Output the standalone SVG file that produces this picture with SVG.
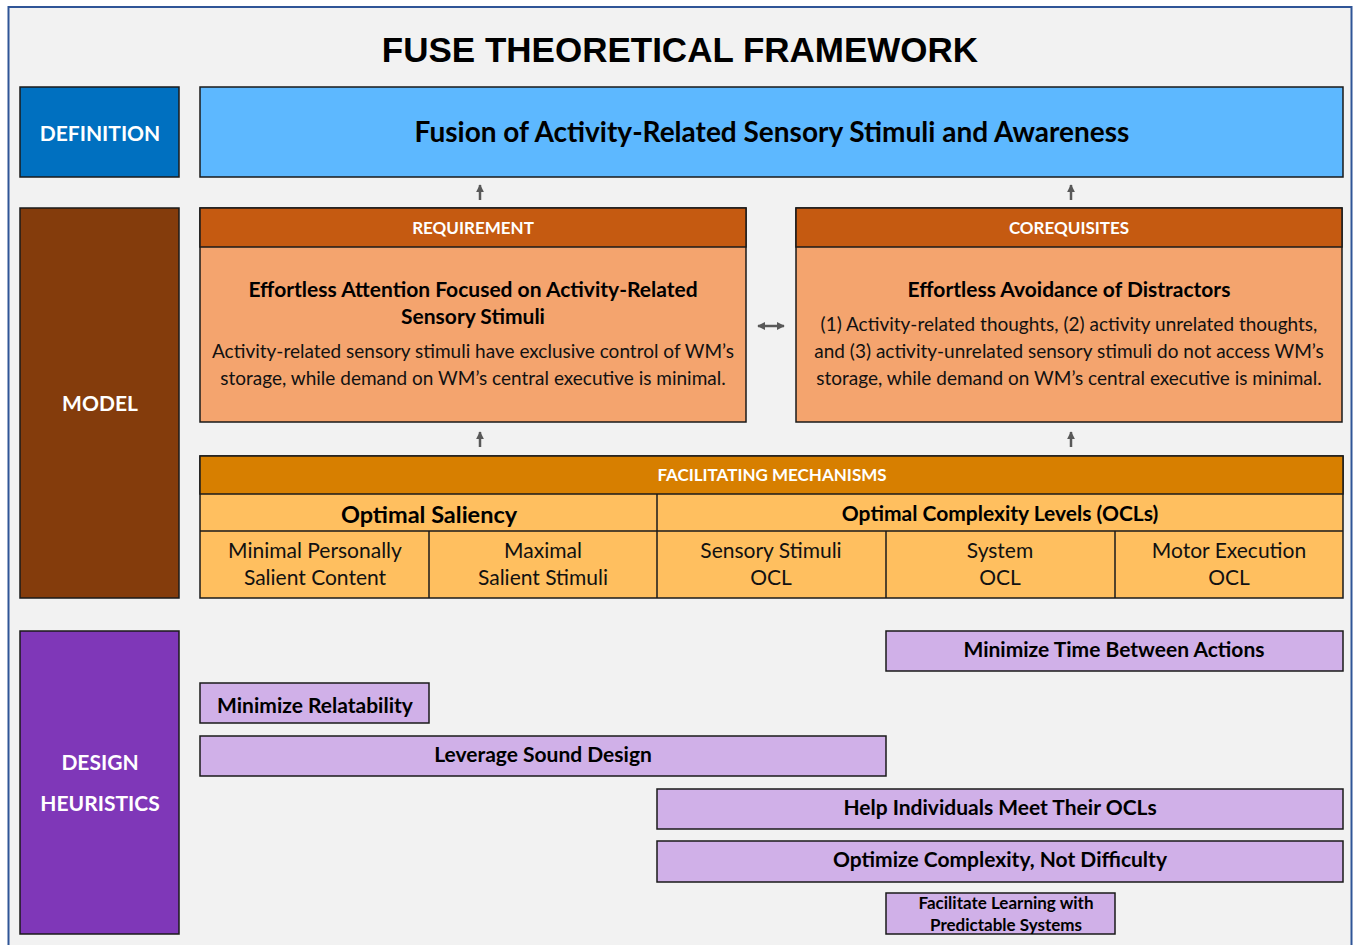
<svg xmlns="http://www.w3.org/2000/svg" width="1353" height="945" viewBox="0 0 1353 945">
<defs>
<style>
.t{font-family:Lato,"Open Sans","Liberation Sans",sans-serif;text-anchor:middle;}
.w{fill:#fff;font-weight:bold;}
.b{font-weight:bold;fill:#000;}
.n{fill:#111;}
.box{stroke:#1a1a1a;stroke-width:1.5;}
.ar{stroke:#595959;stroke-width:2.5;fill:none;}
</style>
<marker id="ah" viewBox="0 0 10 10" refX="9" refY="5" markerWidth="3.2" markerHeight="3.2" orient="auto-start-reverse">
<path d="M0,0 L10,5 L0,10 z" fill="#595959"/>
</marker>
</defs>
<rect x="0" y="0" width="1353" height="945" fill="#ffffff"/>
<rect x="8.5" y="7" width="1343" height="945" fill="#f2f2f2" stroke="#2f5597" stroke-width="2"/>
<text x="680" y="62" font-family="'Liberation Sans',Arial,sans-serif" font-weight="bold" font-size="35" text-anchor="middle" fill="#000">FUSE THEORETICAL FRAMEWORK</text>

<g id="definition-label">
<rect x="20" y="87" width="159" height="90" fill="#0070c0" class="box"/>
<text x="100" y="141" class="t w" font-size="21">DEFINITION</text>
</g>
<g id="definition">
<rect x="200" y="87" width="1143" height="90" fill="#5db8ff" class="box"/>
<text x="772" y="142" class="t b" font-size="28">Fusion of Activity-Related Sensory Stimuli and Awareness</text>
</g>

<g id="model-label">
<rect x="20" y="208" width="159" height="390" fill="#843c0c" class="box"/>
<text x="100" y="411" class="t w" font-size="21">MODEL</text>
</g>

<g id="requirement">
<rect x="200" y="208" width="546" height="214" fill="#f4a46e" class="box"/>
<rect x="200" y="208" width="546" height="39" fill="#c55a11" class="box"/>
<text x="473" y="234" class="t w" font-size="17">REQUIREMENT</text>
<text x="473" y="297" class="t b" font-size="21">Effortless Attention Focused on Activity-Related</text>
<text x="473" y="324" class="t b" font-size="21">Sensory Stimuli</text>
<text x="473" y="358" class="t n" font-size="19">Activity-related sensory stimuli have exclusive control of WM’s</text>
<text x="473" y="385" class="t n" font-size="19">storage, while demand on WM’s central executive is minimal.</text>
</g>

<g id="corequisites">
<rect x="796" y="208" width="546" height="214" fill="#f4a46e" class="box"/>
<rect x="796" y="208" width="546" height="39" fill="#c55a11" class="box"/>
<text x="1069" y="234" class="t w" font-size="17">COREQUISITES</text>
<text x="1069" y="297" class="t b" font-size="21">Effortless Avoidance of Distractors</text>
<text x="1069" y="331" class="t n" font-size="19">(1) Activity-related thoughts, (2) activity unrelated thoughts,</text>
<text x="1069" y="358" class="t n" font-size="19">and (3) activity-unrelated sensory stimuli do not access WM’s</text>
<text x="1069" y="385" class="t n" font-size="19">storage, while demand on WM’s central executive is minimal.</text>
</g>

<g id="facilitating-mechanisms">
<rect x="200" y="456" width="1143" height="142" fill="#ffbf5f" class="box"/>
<rect x="200" y="456" width="1143" height="38" fill="#d77f00" class="box"/>
<text x="772" y="481" class="t w" font-size="17">FACILITATING MECHANISMS</text>
<line x1="200" y1="531" x2="1343" y2="531" class="box"/>
<line x1="657" y1="494" x2="657" y2="598" class="box"/>
<line x1="429" y1="531" x2="429" y2="598" class="box"/>
<line x1="886" y1="531" x2="886" y2="598" class="box"/>
<line x1="1115" y1="531" x2="1115" y2="598" class="box"/>
<text x="429" y="523" class="t b" font-size="23.5">Optimal Saliency</text>
<text x="1000" y="521" class="t b" font-size="21">Optimal Complexity Levels (OCLs)</text>
<text x="315" y="558" class="t n" font-size="21">Minimal Personally</text>
<text x="315" y="585" class="t n" font-size="21">Salient Content</text>
<text x="543" y="558" class="t n" font-size="21">Maximal</text>
<text x="543" y="585" class="t n" font-size="21">Salient Stimuli</text>
<text x="771" y="558" class="t n" font-size="21">Sensory Stimuli</text>
<text x="771" y="585" class="t n" font-size="21">OCL</text>
<text x="1000" y="558" class="t n" font-size="21">System</text>
<text x="1000" y="585" class="t n" font-size="21">OCL</text>
<text x="1229" y="558" class="t n" font-size="21">Motor Execution</text>
<text x="1229" y="585" class="t n" font-size="21">OCL</text>
</g>

<g id="design-heuristics-label">
<rect x="20" y="631" width="159" height="303" fill="#7f37b8" class="box"/>
<text x="100" y="770" class="t w" font-size="21">DESIGN</text>
<text x="100" y="811" class="t w" font-size="21">HEURISTICS</text>
</g>
<g id="h-time">
<rect x="886" y="631" width="457" height="40" fill="#d0b0e8" class="box"/>
<text x="1114" y="657" class="t b" font-size="21">Minimize Time Between Actions</text>
</g>
<g id="h-relatability">
<rect x="200" y="683" width="229" height="40" fill="#d0b0e8" class="box"/>
<text x="315" y="713" class="t b" font-size="21">Minimize Relatability</text>
</g>
<g id="h-sound">
<rect x="200" y="736" width="686" height="40" fill="#d0b0e8" class="box"/>
<text x="543" y="762" class="t b" font-size="21">Leverage Sound Design</text>
</g>
<g id="h-ocls">
<rect x="657" y="789" width="686" height="40" fill="#d0b0e8" class="box"/>
<text x="1000" y="815" class="t b" font-size="21">Help Individuals Meet Their OCLs</text>
</g>
<g id="h-complexity">
<rect x="657" y="841" width="686" height="41" fill="#d0b0e8" class="box"/>
<text x="1000" y="867" class="t b" font-size="21">Optimize Complexity, Not Difficulty</text>
</g>
<g id="h-learning">
<rect x="886" y="893" width="229" height="41" fill="#d0b0e8" class="box"/>
<text x="1006" y="909" class="t b" font-size="17">Facilitate Learning with</text>
<text x="1006" y="931" class="t b" font-size="17">Predictable Systems</text>
</g>

<g id="connectors">
<line x1="480" y1="200" x2="480" y2="185" class="ar" marker-end="url(#ah)"/>
<line x1="1071" y1="200" x2="1071" y2="185" class="ar" marker-end="url(#ah)"/>
<line x1="758" y1="326" x2="784" y2="326" class="ar" marker-start="url(#ah)" marker-end="url(#ah)"/>
<line x1="480" y1="447" x2="480" y2="432" class="ar" marker-end="url(#ah)"/>
<line x1="1071" y1="447" x2="1071" y2="432" class="ar" marker-end="url(#ah)"/>
</g>
</svg>
